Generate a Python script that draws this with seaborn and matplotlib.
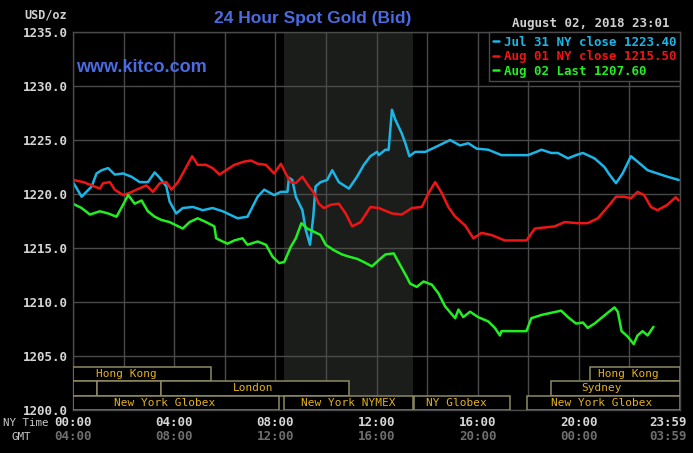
import matplotlib
matplotlib.use("Agg")
import matplotlib.pyplot as plt
import seaborn as sns
import pandas as pd
from matplotlib.patches import Rectangle
import matplotlib.transforms as mtransforms

# ---------------- data ----------------
jul31_t = [0.0, 0.34, 0.74, 0.93, 1.13, 1.39, 1.65, 1.98, 2.31, 2.64, 2.96, 3.23, 3.43, 3.69, 3.82,
           4.08, 4.34, 4.74, 5.13, 5.52, 5.92, 6.51, 6.90, 7.30, 7.56, 7.95, 8.22, 8.48, 8.54, 8.67,
           8.81, 9.07, 9.20, 9.37, 9.50, 9.59, 9.79, 10.05, 10.25, 10.51, 10.91, 11.23, 11.50, 11.76,
           12.02, 12.09, 12.35, 12.48, 12.61, 12.74, 13.00, 13.14, 13.30, 13.53, 13.93, 14.38, 14.91,
           15.30, 15.63, 15.96, 16.42, 16.94, 17.99, 18.32, 18.52, 18.91, 19.17, 19.57, 19.89, 20.16,
           20.62, 21.01, 21.21, 21.47, 21.73, 22.06, 22.32, 22.72, 23.11, 23.50, 23.95]
jul31_v = [1221.1, 1219.75, 1220.7, 1221.9, 1222.2, 1222.4, 1221.8, 1221.9, 1221.6, 1221.1, 1221.1,
           1222.0, 1221.5, 1220.7, 1219.3, 1218.2, 1218.7, 1218.8, 1218.5, 1218.7, 1218.4, 1217.75,
           1217.9, 1219.75, 1220.4, 1219.9, 1220.2, 1220.2, 1221.5, 1221.3, 1219.75, 1218.5, 1216.7,
           1215.3, 1217.9, 1220.7, 1221.1, 1221.3, 1222.2, 1221.1, 1220.5, 1221.6, 1222.7, 1223.5,
           1223.9, 1223.6, 1224.1, 1224.1, 1227.8, 1226.9, 1225.6, 1224.7, 1223.5, 1223.9, 1223.9,
           1224.4, 1225.0, 1224.5, 1224.7, 1224.2, 1224.1, 1223.6, 1223.6, 1223.9, 1224.1, 1223.8,
           1223.8, 1223.3, 1223.6, 1223.8, 1223.3, 1222.5, 1221.8, 1221.0, 1221.9, 1223.5, 1223.0,
           1222.2, 1221.9, 1221.6, 1221.3]

aug01_t = [0.0, 0.41, 0.74, 1.06, 1.19, 1.46, 1.65, 1.98, 2.24, 2.51, 2.90, 3.16, 3.43, 3.69, 3.89,
           4.15, 4.41, 4.71, 4.93, 5.26, 5.52, 5.79, 6.05, 6.38, 6.77, 7.04, 7.30, 7.63, 7.95, 8.22,
           8.41, 8.61, 8.81, 9.07, 9.33, 9.53, 9.72, 9.92, 10.19, 10.51, 10.78, 11.04, 11.37, 11.76,
           12.09, 12.61, 13.00, 13.40, 13.79, 14.06, 14.32, 14.58, 14.84, 15.11, 15.50, 15.83, 16.15,
           16.55, 17.07, 17.93, 18.26, 18.65, 19.04, 19.44, 19.96, 20.35, 20.75, 21.14, 21.47, 21.79,
           22.06, 22.32, 22.58, 22.85, 23.11, 23.50, 23.83, 23.95]
aug01_v = [1221.3, 1221.1, 1220.8, 1220.5, 1221.0, 1221.1, 1220.4, 1219.9, 1220.1, 1220.4, 1220.8,
           1220.2, 1221.0, 1221.1, 1220.4, 1221.1, 1222.2, 1223.5, 1222.7, 1222.7, 1222.4, 1221.8,
           1222.2, 1222.7, 1223.0, 1223.1, 1222.8, 1222.7, 1221.9, 1222.8, 1221.9, 1221.1, 1221.0,
           1221.6, 1220.7, 1220.1, 1219.1, 1218.7, 1219.0, 1219.1, 1218.2, 1217.0, 1217.4, 1218.8,
           1218.7, 1218.2, 1218.1, 1218.7, 1218.8, 1220.1, 1221.1, 1220.1, 1218.8, 1217.9, 1217.1,
           1215.9, 1216.4, 1216.2, 1215.7, 1215.7, 1216.8, 1216.9, 1217.0, 1217.4, 1217.3, 1217.3,
           1217.75, 1218.8, 1219.75, 1219.75, 1219.6, 1220.2, 1219.9, 1218.8, 1218.5, 1219.0, 1219.7,
           1219.4]

aug02_t = [0.0, 0.34, 0.67, 1.06, 1.39, 1.72, 1.98, 2.18, 2.44, 2.71, 2.96, 3.23, 3.49, 3.82, 4.08,
           4.34, 4.61, 4.93, 5.26, 5.59, 5.66, 5.92, 6.11, 6.38, 6.70, 6.90, 7.30, 7.63, 7.89, 8.15,
           8.35, 8.61, 8.81, 9.03, 9.26, 9.53, 9.79, 9.99, 10.31, 10.64, 10.91, 11.23, 11.50, 11.82,
           12.15, 12.35, 12.68, 12.94, 13.20, 13.33, 13.59, 13.86, 14.19, 14.45, 14.71, 15.11, 15.24,
           15.43, 15.70, 16.02, 16.42, 16.68, 16.88, 16.94, 17.93, 18.12, 18.39, 18.52, 18.91, 19.30,
           19.57, 19.89, 20.16, 20.35, 20.62, 20.88, 21.14, 21.41, 21.54, 21.69, 21.93, 22.17, 22.32,
           22.52, 22.72, 22.95]
aug02_v = [1219.1, 1218.7, 1218.1, 1218.4, 1218.2, 1217.9, 1219.0, 1219.9, 1219.1, 1219.4, 1218.4,
           1217.9, 1217.6, 1217.4, 1217.1, 1216.8, 1217.4, 1217.75, 1217.4, 1217.0, 1215.9, 1215.6,
           1215.4, 1215.7, 1215.9, 1215.3, 1215.6, 1215.3, 1214.2, 1213.6, 1213.7, 1215.1, 1215.9,
           1217.3, 1216.8, 1216.5, 1216.2, 1215.3, 1214.8, 1214.4, 1214.2, 1214.0, 1213.7, 1213.3,
           1214.0, 1214.4, 1214.5, 1213.4, 1212.3, 1211.7, 1211.4, 1211.9, 1211.6, 1210.8, 1209.6,
           1208.5, 1209.3, 1208.6, 1209.1, 1208.6, 1208.2, 1207.6, 1206.9, 1207.3, 1207.3, 1208.5,
           1208.7, 1208.8, 1209.0, 1209.2, 1208.6, 1208.0, 1208.1, 1207.6, 1208.0, 1208.5, 1209.0,
           1209.5, 1209.1, 1207.3, 1206.8, 1206.1, 1206.9, 1207.3, 1206.9, 1207.7]

series_labels = ["Jul 31 NY close 1223.40", "Aug 01 NY close 1215.50", "Aug 02 Last 1207.60"]
series_colors = ["#1bb5e6", "#ee1515", "#22ee22"]

ny_ticks = [0, 4, 8, 12, 16, 20, 24]
ny_labels = ["00:00", "04:00", "08:00", "12:00", "16:00", "20:00", "23:59"]
gmt_labels = ["04:00", "08:00", "12:00", "16:00", "20:00", "00:00", "03:59"]
y_ticks = [1200, 1205, 1210, 1215, 1220, 1225, 1230, 1235]

# sessions: row, start, end, label, label centre (hours)
session_row = [0, 0, 1, 1, 1, 1, 2, 2, 2, 2]
session_start = [0.0, 20.45, 0.0, 0.95, 3.46, 18.9, 0.0, 8.33, 13.5, 17.95]
session_end = [5.47, 24.0, 0.95, 3.46, 10.9, 24.0, 8.15, 13.45, 17.28, 24.0]
session_name = ["Hong Kong", "Hong Kong", "", "", "London", "Sydney",
                "New York Globex", "New York NYMEX", "NY Globex", "New York Globex"]
session_text_at = [2.1, 21.97, 0, 0, 7.13, 20.9, 3.64, 10.87, 15.16, 20.9]
nymex_span = (8.33, 13.45)

# ---------------- plot ----------------
sns.set_style("dark")
plt.rcParams["font.family"] = ["DejaVu Sans"]
BG = "#000000"
GRID = "#4a4a4a"
MONO = "DejaVu Sans Mono"

fig = plt.figure(figsize=(6.93, 4.53), dpi=100, facecolor=BG)
ax = fig.add_axes([73 / 693, 43 / 453, 607 / 693, 378 / 453])
ax.set_facecolor(BG)

ax.axvspan(*nymex_span, color="#1b1d1b", zorder=0.2, lw=0)

frames = []
for t, v, lab in [(jul31_t, jul31_v, series_labels[0]),
                  (aug01_t, aug01_v, series_labels[1]),
                  (aug02_t, aug02_v, series_labels[2])]:
    frames.append(pd.DataFrame({"hour": t, "price": v, "series": lab}))
df = pd.concat(frames, ignore_index=True)

sns.lineplot(data=df, x="hour", y="price", hue="series", palette=series_colors,
             hue_order=series_labels, linewidth=1.8, ax=ax, zorder=2, sort=False,
             estimator=None)

ax.set_xlim(0, 24)
ax.set_ylim(1200, 1235)
ax.set_xlabel("")
ax.set_ylabel("")

ax.set_xticks(list(range(0, 25, 2)))
ax.set_xticklabels([])
ax.set_yticks(y_ticks)
ax.set_yticklabels([f"{y:.1f}" for y in y_ticks], fontfamily=MONO, fontweight="bold",
                   fontsize=9, color="#d6d6d6")
ax.tick_params(axis="both", length=0)
ax.tick_params(axis="y", pad=4)
ax.grid(True, color=GRID, lw=1)
ax.set_axisbelow(True)
for s in ax.spines.values():
    s.set_color(GRID)
    s.set_linewidth(1)

# time labels (NY and GMT rows)
trans = mtransforms.blended_transform_factory(ax.transData, ax.transAxes)
for i, (h, n, g) in enumerate(zip(ny_ticks, ny_labels, gmt_labels)):
    tr = trans
    if i == len(ny_ticks) - 1:
        tr = trans + mtransforms.ScaledTranslation(-12 / 100, 0, fig.dpi_scale_trans)
    ax.text(h, -0.034, n, transform=tr, ha="center", va="center", fontfamily=MONO,
            fontweight="bold", fontsize=9, color="#d6d6d6", clip_on=False)
    ax.text(h, -0.071, g, transform=tr, ha="center", va="center", fontfamily=MONO,
            fontweight="bold", fontsize=9, color="#6e6e6e", clip_on=False)

# session boxes
row_y = [1202.67, 1201.33, 1200.0]
row_h = 1.33
for r, s0, s1, name, tx in zip(session_row, session_start, session_end, session_name, session_text_at):
    ax.add_patch(Rectangle((s0, row_y[r]), s1 - s0, row_h, facecolor=BG,
                           edgecolor="#8f8a62", lw=1.1, zorder=3))
    if name:
        ax.text(tx, row_y[r] + row_h / 2, name, ha="center", va="center", fontfamily=MONO,
                fontsize=8, color="#e3b21c", zorder=4)

# legend
leg = ax.legend(loc="upper right", handlelength=0.5, handletextpad=0.4, labelcolor="linecolor",
                prop={"family": MONO, "weight": "bold", "size": 9}, frameon=True,
                facecolor=BG, edgecolor=GRID, fancybox=False, borderaxespad=0,
                borderpad=0.3, labelspacing=0.12, framealpha=1)
leg.get_frame().set_linewidth(1)
leg.set_zorder(5)

# texts
fig.text(313 / 693, 1 - 18 / 453, "24 Hour Spot Gold (Bid)", ha="center", va="center",
         fontsize=12.5, fontweight="bold", color="#4a6be2", family="Liberation Sans")
ax.text(0.005, 0.905, "www.kitco.com", transform=ax.transAxes, ha="left", va="center",
        fontsize=13, fontweight="bold", color="#4a6be2", family="Liberation Sans", zorder=5)
fig.text(669 / 693, 1 - 23 / 453, "August 02, 2018 23:01", ha="right", va="center",
         fontfamily=MONO, fontweight="bold", fontsize=9, color="#d0d0d0")
fig.text(67 / 693, 1 - 15 / 453, "USD/oz", ha="right", va="center",
         fontfamily=MONO, fontweight="bold", fontsize=8.5, color="#d0d0d0")
fig.text(3 / 693, 1 - 423 / 453, "NY Time", ha="left", va="center",
         fontfamily=MONO, fontsize=7.8, color="#c8c8c8")
fig.text(21 / 693, 1 - 437 / 453, "GMT", ha="center", va="center",
         fontfamily=MONO, fontsize=7.8, color="#c8c8c8")

fig.savefig("out.png", dpi=100, facecolor=BG)
